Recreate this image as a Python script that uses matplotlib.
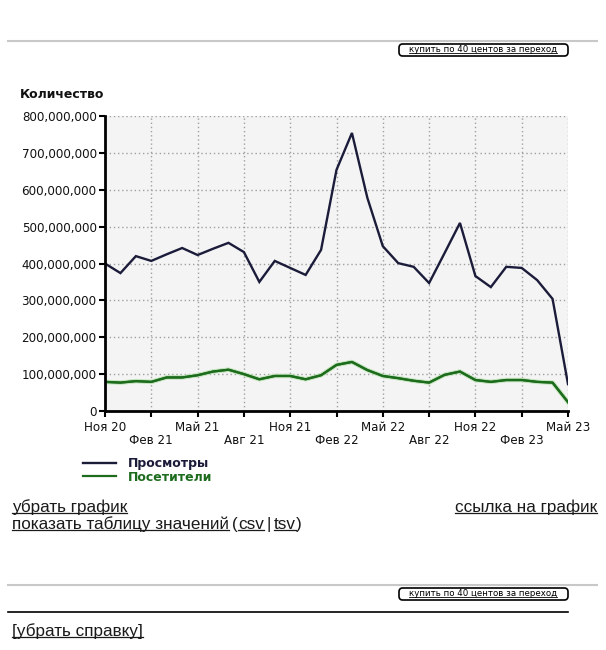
import numpy as np
import matplotlib
matplotlib.use("Agg")
import matplotlib.pyplot as plt
import matplotlib.patheffects as pe
from matplotlib.lines import Line2D
from matplotlib.patches import FancyBboxPatch
from matplotlib.ticker import FuncFormatter, MultipleLocator

# monthly values, Nov 2020 .. May 2023
views = [400, 374, 420, 407, 425, 442, 423, 440, 456, 431, 350, 407, 388, 369,
         437, 654, 754, 578, 447, 401, 391, 347, 428, 510, 366, 336, 391, 388,
         355, 304, 73]
visitors = [79, 77, 81, 79, 91, 91, 97, 107, 112, 100, 86, 95, 95, 86,
            97, 125, 133, 111, 95, 89, 82, 77, 98, 107, 84, 79, 84, 84,
            79, 77, 24]
views = np.array(views) * 1e6
visitors = np.array(visitors) * 1e6
months = np.arange(len(views))

tick_labels = ["Ноя 20", "Фев 21", "Май 21", "Авг 21", "Ноя 21", "Фев 22",
               "Май 22", "Авг 22", "Ноя 22", "Фев 23", "Май 23"]
series_names = ["Просмотры", "Посетители"]
colors = ["#1b1b3a", "#1d6b1d"]

W, H = 606, 650
fig = plt.figure(figsize=(W / 100, H / 100), dpi=100)
fig.patch.set_facecolor("white")


def fx(px):
    return px / W


def fy(py):
    return 1 - py / H


ax = fig.add_axes([fx(105), fy(411), fx(568) - fx(105), fy(116) - fy(411)])
ax.set_facecolor("#f4f4f4")

ax.plot(months, views, color=colors[0], linewidth=1.7, label=series_names[0],
        solid_joinstyle="miter")
ax.plot(months, visitors, color=colors[1], linewidth=1.6, label=series_names[1],
        path_effects=[pe.withStroke(linewidth=3.2, foreground="#bfe3b8"), pe.Normal()])

ax.set_xlim(0, 30)
ax.set_ylim(0, 800e6)
ax.yaxis.set_major_locator(MultipleLocator(100e6))
ax.yaxis.set_major_formatter(FuncFormatter(lambda v, p: f"{v:,.0f}"))
ax.set_xticks(np.arange(0, 31, 3))
ax.set_xticklabels([lab if i % 2 == 0 else "\n" + lab for i, lab in enumerate(tick_labels)],
                   linespacing=1.05)

ax.grid(True, color="#a0a0a0", linestyle=(0, (1, 2)), linewidth=1.0)
for side in ("top", "right"):
    ax.spines[side].set_visible(False)
for side in ("left", "bottom"):
    ax.spines[side].set_linewidth(2)
    ax.spines[side].set_color("black")
ax.tick_params(axis="both", direction="out", length=4, width=1.5, color="black",
               labelsize=8.6, labelcolor="#111111", pad=2)
ax.tick_params(axis="x", pad=3)
for t in ax.get_xticklabels() + ax.get_yticklabels():
    t.set_fontfamily("DejaVu Sans")

fig.text(fx(20), fy(95), "Количество", fontsize=9, fontweight="bold",
         va="center", ha="left", color="#111111")

leg = ax.legend(loc="upper left", bbox_to_anchor=(fx(83), fy(457)),
                bbox_transform=fig.transFigure, frameon=False,
                handlelength=2.6, handletextpad=1.0, labelspacing=0.05,
                prop={"weight": "bold", "size": 9}, labelcolor="linecolor",
                borderpad=0, borderaxespad=0)
for h in leg.legend_handles:
    h.set_path_effects([])

# page decorations around the chart
fig.add_artist(Line2D([fx(8), fx(597)], [fy(41), fy(41)], color="#c8c8c8", linewidth=1.5))
fig.add_artist(Line2D([fx(8), fx(597)], [fy(585), fy(585)], color="#c8c8c8", linewidth=1.5))
fig.add_artist(Line2D([fx(8), fx(568)], [fy(612), fy(612)], color="black", linewidth=1.2))

underlined = []
for y in (50, 594):
    box = FancyBboxPatch((fx(399), fy(y + 6)), fx(568) - fx(399), fy(y - 6) - fy(y + 6),
                         boxstyle="round,pad=0,rounding_size=0.006",
                         transform=fig.transFigure, facecolor="white",
                         edgecolor="black", linewidth=1.2)
    fig.add_artist(box)
    underlined.append(fig.text(fx(483), fy(y), "купить по 40 центов за переход",
                               fontsize=6.2, ha="center", va="center", color="black"))

link_kw = dict(fontsize=12.3, family="Liberation Sans", color="#1a1a1a", va="baseline")
underlined.append(fig.text(fx(12), fy(512), "убрать график", ha="left", **link_kw))
underlined.append(fig.text(fx(597), fy(512), "ссылка на график", ha="right", **link_kw))
t1 = fig.text(fx(12), fy(529), "показать таблицу значений", ha="left", **link_kw)
underlined.append(t1)
underlined.append(fig.text(fx(12), fy(636), "[убрать справку]", ha="left", **link_kw))

fig.canvas.draw()
r = fig.canvas.get_renderer()
bb = t1.get_window_extent(r)
p1 = fig.text(bb.x1 / W + fx(3), fy(529), "(", ha="left", **link_kw)
bb = p1.get_window_extent(r)
csv = fig.text(bb.x1 / W, fy(529), "csv", ha="left", **link_kw)
underlined.append(csv)
bb = csv.get_window_extent(r)
sep = fig.text(bb.x1 / W + fx(3), fy(529), "|", ha="left", **link_kw)
bb = sep.get_window_extent(r)
tsv = fig.text(bb.x1 / W + fx(3), fy(529), "tsv", ha="left", **link_kw)
underlined.append(tsv)
bb = tsv.get_window_extent(r)
fig.text(bb.x1 / W, fy(529), ")", ha="left", **link_kw)

fig.canvas.draw()
for t in underlined:
    bb = t.get_window_extent(r)
    yline = bb.y0 + bb.height * 0.14
    lw = 0.6 if t.get_fontsize() < 8 else 0.9
    fig.add_artist(Line2D([bb.x0 / W, bb.x1 / W], [yline / H, yline / H],
                          color=t.get_color(), linewidth=lw))

fig.savefig("out.png", dpi=100)
